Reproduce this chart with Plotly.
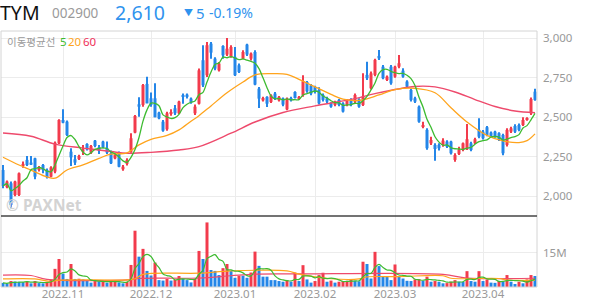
import plotly.graph_objects as go
import pandas as pd

# ---------------- data ----------------
month_idx = [15, 37, 58, 78, 98, 120]
month_labels = ["2022.11", "2022.12", "2023.01", "2023.02", "2023.03", "2023.04"]
price_ticks = [2000, 2250, 2500, 2750, 3000]

opens = [2166, 2057, 2082, 2008, 2008, 2192, 2230, 2213, 2240, 2166,
         2198, 2166, 2124, 2156, 2335, 2483, 2472, 2282, 2234, 2236,
         2282, 2331, 2276, 2352, 2310, 2346, 2304, 2272, 2240, 2268,
         2171, 2205, 2282, 2403, 2582, 2578, 2711, 2620, 2620, 2529,
         2472, 2424, 2521, 2557, 2525, 2639, 2643, 2618, 2525, 2586,
         2861, 2766, 2966, 2871, 2797, 2951, 2897, 2882, 2882, 2829,
         2871, 2960, 2871, 2913, 2681, 2607, 2629, 2597, 2650, 2607,
         2618, 2550, 2622, 2660, 2618, 2639, 2723, 2702, 2692, 2673,
         2641, 2620, 2588, 2578, 2610, 2588, 2578, 2610, 2599, 2614,
         2578, 2768, 2683, 2768, 2888, 2820, 2736, 2820, 2757, 2820,
         2795, 2726, 2673, 2620, 2567, 2441, 2420, 2335, 2325, 2325,
         2325, 2346, 2346, 2230, 2268, 2293, 2297, 2335, 2335, 2420,
         2409, 2437, 2403, 2409, 2399, 2388, 2325, 2409, 2445, 2451,
         2451, 2483, 2525, 2662]
highs = [2198, 2099, 2093, 2098, 2150, 2220, 2255, 2255, 2244, 2192,
         2204, 2175, 2190, 2346, 2487, 2550, 2479, 2304, 2261, 2262,
         2325, 2335, 2325, 2356, 2325, 2352, 2346, 2289, 2272, 2283,
         2198, 2240, 2398, 2515, 2626, 2711, 2757, 2656, 2715, 2535,
         2483, 2535, 2550, 2578, 2605, 2650, 2650, 2625, 2580, 2808,
         2956, 2977, 2977, 2880, 2850, 2956, 3002, 2956, 2945, 2840,
         2924, 2966, 2910, 2924, 2692, 2630, 2633, 2645, 2660, 2635,
         2625, 2625, 2630, 2664, 2635, 2766, 2730, 2710, 2700, 2690,
         2650, 2630, 2595, 2605, 2615, 2595, 2615, 2620, 2650, 2620,
         2778, 2852, 2790, 2870, 2926, 2830, 2765, 2830, 2826, 2894,
         2810, 2735, 2680, 2630, 2575, 2472, 2430, 2377, 2335, 2335,
         2367, 2355, 2352, 2272, 2314, 2340, 2458, 2345, 2370, 2494,
         2420, 2445, 2410, 2415, 2405, 2395, 2430, 2440, 2455, 2460,
         2500, 2500, 2625, 2680]
lows = [2050, 2050, 1924, 2000, 2002, 2180, 2192, 2198, 2107, 2156,
        2145, 2113, 2120, 2145, 2331, 2462, 2381, 2192, 2198, 2230,
        2261, 2290, 2268, 2310, 2268, 2304, 2268, 2204, 2234, 2183,
        2162, 2195, 2276, 2398, 2504, 2567, 2588, 2567, 2500, 2487,
        2409, 2415, 2510, 2514, 2520, 2586, 2618, 2585, 2515, 2580,
        2692, 2755, 2871, 2797, 2790, 2871, 2888, 2876, 2761, 2780,
        2867, 2888, 2860, 2702, 2559, 2600, 2565, 2590, 2610, 2600,
        2570, 2545, 2600, 2618, 2610, 2630, 2655, 2640, 2650, 2580,
        2600, 2590, 2560, 2570, 2570, 2530, 2570, 2570, 2590, 2560,
        2572, 2736, 2675, 2760, 2863, 2740, 2730, 2705, 2750, 2810,
        2750, 2685, 2600, 2590, 2465, 2430, 2295, 2325, 2225, 2290,
        2314, 2305, 2265, 2219, 2261, 2285, 2293, 2285, 2330, 2367,
        2360, 2380, 2375, 2370, 2350, 2260, 2315, 2400, 2400, 2412,
        2445, 2478, 2515, 2605]
closes = [2065, 2093, 1945, 2093, 2145, 2205, 2198, 2200, 2124, 2183,
          2166, 2120, 2183, 2339, 2483, 2466, 2388, 2246, 2213, 2255,
          2297, 2297, 2318, 2318, 2289, 2310, 2276, 2209, 2261, 2187,
          2187, 2230, 2367, 2508, 2567, 2704, 2588, 2578, 2500, 2493,
          2415, 2525, 2529, 2525, 2599, 2629, 2629, 2593, 2567, 2797,
          2702, 2956, 2909, 2808, 2840, 2892, 2934, 2945, 2766, 2787,
          2913, 2897, 2903, 2707, 2618, 2622, 2586, 2639, 2618, 2629,
          2580, 2618, 2607, 2622, 2629, 2728, 2664, 2650, 2660, 2588,
          2610, 2599, 2567, 2599, 2578, 2536, 2610, 2578, 2641, 2567,
          2631, 2747, 2778, 2863, 2873, 2747, 2757, 2715, 2820, 2842,
          2757, 2694, 2610, 2599, 2472, 2451, 2304, 2356, 2299, 2304,
          2352, 2314, 2272, 2261, 2297, 2335, 2361, 2293, 2361, 2377,
          2367, 2388, 2382, 2377, 2356, 2272, 2420, 2430, 2409, 2420,
          2483, 2493, 2615, 2610]
volumes_m = [1.8, 1.4, 2.6, 2.4, 2.2, 2.1, 2.3, 1.6, 2.6, 1.7,
             1.6, 2.3, 3.1, 7.9, 12.2, 5.8, 3.5, 10.0, 3.5, 3.6,
             3.3, 2.6, 1.9, 2.6, 2.4, 2.7, 1.9, 2.3, 2.6, 2.0,
             1.6, 2.2, 9.6, 24.5, 13.2, 16.6, 7.0, 5.0, 10.6, 3.0,
             2.8, 3.5, 2.8, 3.2, 4.8, 3.5, 3.0, 2.0, 3.5, 15.7,
             12.2, 28.1, 7.4, 7.0, 5.2, 8.2, 10.0, 7.0, 4.0, 4.9,
             4.9, 4.0, 6.3, 15.4, 9.2, 4.5, 4.5, 3.0, 3.0, 2.6,
             2.3, 3.0, 2.3, 6.3, 2.6, 9.5, 3.3, 1.9, 2.6, 5.2,
             6.2, 2.3, 2.8, 1.9, 2.3, 2.6, 2.7, 3.1, 2.6, 2.5,
             11.0, 10.0, 3.7, 15.3, 9.1, 4.5, 4.4, 3.0, 9.8, 4.5,
             3.7, 2.7, 2.6, 3.3, 3.4, 2.7, 4.5, 2.3, 2.6, 2.3,
             1.6, 1.7, 2.3, 3.0, 2.3, 2.2, 6.9, 2.6, 2.3, 6.9,
             2.6, 3.3, 1.9, 1.8, 2.6, 2.5, 5.2, 2.3, 1.3, 2.3,
             1.6, 3.3, 5.2, 4.8]

# moving averages (index, value)
ma20_idx = [0, 4, 7, 11, 13, 16, 20, 24, 27, 31, 34, 37, 41, 44, 47, 49, 52, 56, 60, 63,
            67, 71, 74, 78, 82, 85, 89, 94, 98, 103, 108, 112, 116, 121, 125, 129, 131, 133]
ma20_val = [2247, 2198, 2166, 2122, 2114, 2166, 2198, 2240, 2266, 2275, 2325, 2360, 2385, 2420,
            2475, 2510, 2572, 2655, 2723, 2768, 2776, 2772, 2740, 2692, 2645, 2615, 2607, 2641,
            2675, 2683, 2655, 2560, 2470, 2385, 2350, 2340, 2352, 2395]
ma60_idx = [0, 7, 13, 20, 27, 31, 37, 44, 49, 57, 63, 70, 78, 88, 93, 103, 108, 113, 118, 123, 128, 133]
ma60_val = [2400, 2380, 2330, 2305, 2283, 2272, 2278, 2293, 2314, 2399, 2470, 2530, 2572, 2618,
            2650, 2695, 2692, 2660, 2612, 2568, 2540, 2529]
vma20_idx = [0, 8, 12, 14, 31, 33, 35, 49, 57, 71, 74, 82, 89, 91, 99, 110, 112, 124, 126, 133]
vma20_val = [3.5, 3.5, 2.4, 3.0, 3.1, 3.6, 5.5, 6.0, 7.0, 7.0, 5.6, 3.6, 3.5, 4.4, 4.5, 4.9, 3.8, 3.7, 3.0, 3.0]
vma60_idx = [0, 7, 11, 32, 34, 49, 57, 63, 74, 110, 116, 133]
vma60_val = [5.2, 5.0, 3.3, 3.2, 3.7, 3.9, 4.9, 5.6, 5.7, 5.5, 3.9, 3.8]

# ---------------- style ----------------
RED = "#f23b4c"
BLUE = "#2486e8"
GREEN = "#3dbb30"
ORANGE = "#ffa41c"
PINK = "#ee4a6c"
GRID = "#ececec"
LABEL = "#999999"
FONT = "Noto Sans, Noto Sans CJK KR, sans-serif"

n = len(closes)
x = list(range(n))
up = [c >= o for o, c in zip(opens, closes)]
candle_col = [RED if u else BLUE for u in up]
body_base = [min(o, c) for o, c in zip(opens, closes)]
body_h = [max(abs(c - o), 5) for o, c in zip(opens, closes)]
wick_h = [h - l for h, l in zip(highs, lows)]
vol_col = [BLUE] + [RED if volumes_m[i] > volumes_m[i - 1] else BLUE for i in range(1, n)]
ma5 = pd.Series(closes).rolling(5, min_periods=1).mean()
vma5 = pd.Series(volumes_m).rolling(5, min_periods=1).mean()

fig = go.Figure()
fig.add_trace(go.Bar(x=x, y=wick_h, base=lows, width=0.25, marker=dict(color=candle_col, line_width=0),
                     xaxis="x", yaxis="y", hoverinfo="skip"))
fig.add_trace(go.Bar(x=x, y=body_h, base=body_base, width=0.75, marker=dict(color=candle_col, line_width=0),
                     xaxis="x", yaxis="y", hoverinfo="skip"))
fig.add_trace(go.Scatter(x=ma60_idx, y=ma60_val, mode="lines", line=dict(color=PINK, width=1.4, shape="spline"),
                         xaxis="x", yaxis="y"))
fig.add_trace(go.Scatter(x=ma20_idx, y=ma20_val, mode="lines", line=dict(color=ORANGE, width=1.3, shape="spline"),
                         xaxis="x", yaxis="y"))
fig.add_trace(go.Scatter(x=x, y=ma5, mode="lines", line=dict(color=GREEN, width=1.3, shape="spline", smoothing=0.8),
                         xaxis="x", yaxis="y"))

fig.add_trace(go.Bar(x=x, y=volumes_m, width=0.75, marker=dict(color=vol_col, line_width=0),
                     xaxis="x2", yaxis="y2", hoverinfo="skip"))
fig.add_trace(go.Scatter(x=vma60_idx, y=vma60_val, mode="lines", line=dict(color=PINK, width=1.2, shape="spline"),
                         xaxis="x2", yaxis="y2"))
fig.add_trace(go.Scatter(x=vma20_idx, y=vma20_val, mode="lines", line=dict(color=ORANGE, width=1.2, shape="spline"),
                         xaxis="x2", yaxis="y2"))
fig.add_trace(go.Scatter(x=x, y=vma5, mode="lines", line=dict(color=GREEN, width=1.2, shape="spline"),
                         xaxis="x2", yaxis="y2"))

L, R, T, B = 1, 537, 31, 287
W, H = R - L, B - T
DIV = 216
split = (B - DIV) / H


def px(v):
    return (v - L) / W


def py(v):
    return (B - v) / H


xcommon = dict(range=[-0.5, n - 0.5], tickvals=month_idx, ticktext=month_labels, showgrid=True,
               gridcolor=GRID, gridwidth=1, zeroline=False, showline=False, ticks="")
fig.update_layout(
    width=594, height=304, margin=dict(l=L, r=594 - R, t=T, b=304 - B),
    paper_bgcolor="white", plot_bgcolor="white", showlegend=False, barmode="overlay",
    font=dict(family=FONT, size=11, color=LABEL),
    xaxis=dict(domain=[0, 1], anchor="y", showticklabels=False, **xcommon),
    xaxis2=dict(domain=[0, 1], anchor="y2", matches="x", showticklabels=True, ticklabelstandoff=-2,
                tickfont=dict(size=11.5, color=LABEL), **xcommon),
    yaxis=dict(domain=[split, 1], range=[1875, 3046], side="right", tickvals=price_ticks, tickformat=",",
               showgrid=True, gridcolor=GRID, zeroline=False, ticks="", ticklabelstandoff=5,
               tickfont=dict(size=11.5, color=LABEL)),
    yaxis2=dict(domain=[0, split], range=[0, 30.9], side="right", tickvals=[15], ticktext=["15M"],
                showgrid=True, gridcolor=GRID, zeroline=False, ticks="", ticklabelstandoff=5,
                tickfont=dict(size=11.5, color=LABEL)),
)

shapes = [
    dict(type="rect", xref="paper", yref="paper", x0=0, y0=0, x1=1, y1=1,
         line=dict(color="#d4d4d4", width=1), layer="above"),
    dict(type="line", xref="paper", yref="paper", x0=0, x1=1, y0=split, y1=split,
         line=dict(color="#444444", width=1.6), layer="above"),
]
fig.update_layout(shapes=shapes)


def ann(text, xp, yp, size, color, bold=False, family=FONT):
    fig.add_annotation(text=("<b>%s</b>" % text) if bold else text, x=px(xp), y=py(yp), xref="paper",
                       yref="paper", xanchor="left", yanchor="middle", showarrow=False,
                       font=dict(family=family, size=size, color=color), borderpad=0)


HEAD_BLUE = "#2f93ee"
ann("TYM", -1, 12.5, 19.5, "#111111")
ann("002900", 51, 13, 13.5, "#9a9a9a")
ann("2,610", 114, 12, 19.5, HEAD_BLUE)
ann("▼", 183, 12.5, 9, HEAD_BLUE)
ann("5", 195, 12.5, 15, HEAD_BLUE)
ann("-0.19%", 208, 12.5, 14, HEAD_BLUE)
ann("이동평균선", 6, 41, 10.5, "#9a9a9a", family="Noto Sans CJK KR, sans-serif")
ann("5", 59, 41, 11.5, GREEN)
ann("20", 67, 41, 11.5, ORANGE)
ann("60", 82, 41, 11.5, "#f0305a")
ann("© PAXNet", 5, 204.5, 15.5, "#d3d3d3", bold=True)

fig.write_html("out.html")
